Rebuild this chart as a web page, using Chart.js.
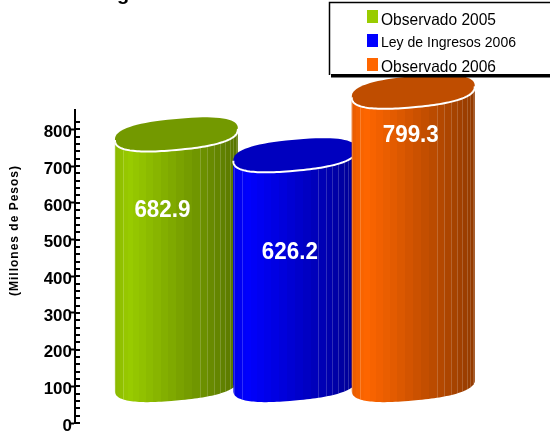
<!DOCTYPE html>
<html><head><meta charset="utf-8">
<style>html,body{margin:0;padding:0;background:#fff}canvas{display:block}</style>
<script src="https://cdn.jsdelivr.net/npm/chart.js@4"></script>
</head><body><canvas id="c" width="550" height="432"></canvas>
<script>
const seriesNames = ["Observado 2005", "Ley de Ingresos 2006", "Observado 2006"];
const seriesValues = [682.9, 626.2, 799.3];
const seriesPositions = [1, 2, 3];
const bodyColors = [[153,204,0],[0,0,255],[255,102,0]];
const topColors = ["#739900","#0000bf","#bf4d00"];
const axisTitle = "(Millones de Pesos)";
const visibleTitleFragment = "g";

const FONT = '"Liberation Sans", Arial, sans-serif';
const BAR_W = 123, RY = 15.5, SHEAR = -0.09, ROUNDNESS = 2.5;

function bandGradient(ctx, left, w, rgb) {
  const g = ctx.createLinearGradient(left, 0, left + w, 0);
  const shade = t => t < 0.11 ? 0.9 + 0.1 * t / 0.11 : 1 - 0.43 * (t - 0.11) / 0.89;
  for (let a = -90; a < 90; a += 7.5) {
    const t0 = (Math.sin(a * Math.PI / 180) + 1) / 2;
    const t1 = (Math.sin((a + 7.5) * Math.PI / 180) + 1) / 2;
    const s = shade((t0 + t1) / 2);
    const col = `rgb(${rgb.map(v => Math.round(v * s)).join(',')})`;
    g.addColorStop(t0, col); g.addColorStop(t1, col);
  }
  return g;
}

// rim of a tilted, slightly squared cylinder end; angles run clockwise on screen, 0 = right end
function rim(ctx, cx, cy, rx, from, to) {
  const e = 2 / ROUNDNESS;
  for (let i = 0; i <= 72; i++) {
    const a = from + (to - from) * i / 72, c = Math.cos(a), s = Math.sin(a);
    const x = rx * Math.sign(c) * Math.pow(Math.abs(c), e);
    const y = RY * Math.sign(s) * Math.pow(Math.abs(s), e) + SHEAR * x;
    ctx.lineTo(cx + x, cy + y);
  }
}

function silhouette(ctx, el) {
  const rx = el.width / 2, d = rx * -SHEAR;
  ctx.beginPath();
  ctx.moveTo(el.x - rx, el.y + d);
  ctx.lineTo(el.x + rx, el.y - d);
  rim(ctx, el.x, el.base, rx, 0, Math.PI);
  ctx.closePath();
}

const cylinders = {
  id: 'cylinders',
  beforeDatasetDraw(chart, args) {
    const el = chart.getDatasetMeta(args.index).data[0], ctx = chart.ctx;
    ctx.save();
    ctx.fillStyle = el.options.backgroundColor;
    silhouette(ctx, el); ctx.fill();
    silhouette(ctx, el); ctx.clip();
  },
  afterDatasetDraw(chart, args) {
    const el = chart.getDatasetMeta(args.index).data[0], ctx = chart.ctx;
    const rx = el.width / 2;
    ctx.strokeStyle = 'rgba(255,255,255,0.18)';
    ctx.lineWidth = 1;
    [-82.5,-60,22.5,30,37.5,45,52.5,60,67.5,75,82.5].forEach(a => {
      const x = Math.round(el.x + rx * Math.sin(a * Math.PI / 180)) + 0.5;
      ctx.beginPath(); ctx.moveTo(x, el.y - 20); ctx.lineTo(x, el.base + 20); ctx.stroke();
    });
    ctx.restore();
    ctx.save();
    ctx.fillStyle = topColors[args.index];
    ctx.beginPath(); rim(ctx, el.x, el.y, rx, 0, Math.PI * 2); ctx.closePath(); ctx.fill();
    ctx.strokeStyle = '#fff'; ctx.lineWidth = 2;
    ctx.beginPath(); rim(ctx, el.x, el.y, rx, 0, Math.PI); ctx.stroke();
    ctx.restore();
  },
  afterDatasetsDraw(chart) {
    const ctx = chart.ctx;
    ctx.save();
    ctx.fillStyle = '#fff';
    ctx.font = 'bold 24px ' + FONT;
    ctx.textAlign = 'center'; ctx.textBaseline = 'middle';
    const dy = [76, 97, 44];
    chart.data.datasets.forEach((ds, i) => {
      const el = chart.getDatasetMeta(i).data[0];
      ctx.fillText(seriesValues[i].toFixed(1), el.x - [14, 5, 2.5][i], el.y + dy[i], 56);
    });
    ctx.restore();
  }
};

const decorations = {
  id: 'decorations',
  afterDraw(chart) {
    const ctx = chart.ctx, y = chart.scales.y;
    ctx.save();
    // right-hand tick marks
    ctx.strokeStyle = '#000'; ctx.lineWidth = 2;
    y.ticks.forEach(t => {
      const p = Math.round(y.getPixelForValue(t.value));
      ctx.beginPath(); ctx.moveTo(chart.chartArea.left, p); ctx.lineTo(chart.chartArea.left + 5, p); ctx.stroke();
    });
    // axis title
    ctx.save();
    ctx.translate(14.5, 230.5); ctx.rotate(-Math.PI / 2);
    ctx.font = 'bold 12px ' + FONT; ctx.fillStyle = '#000';
    ctx.letterSpacing = '1px';
    ctx.textAlign = 'center'; ctx.textBaseline = 'middle';
    ctx.fillText(axisTitle, 0, 0);
    ctx.restore();
    // clipped title fragment
    ctx.font = 'bold 20px ' + FONT; ctx.fillStyle = '#000';
    ctx.textAlign = 'left'; ctx.textBaseline = 'alphabetic';
    ctx.fillText(visibleTitleFragment, 117, 0);
    // legend box
    ctx.fillStyle = '#000'; ctx.fillRect(331, 74, 219, 3.5);
    ctx.fillStyle = '#fff'; ctx.fillRect(329, 2, 221, 72);
    ctx.strokeStyle = '#000'; ctx.lineWidth = 1.5;
    ctx.beginPath(); ctx.moveTo(550, 2.5); ctx.lineTo(329.5, 2.5); ctx.lineTo(329.5, 75); ctx.stroke();
    const rows = [[10, 25, 16.5, 115], [34, 47, 15.5, 135], [58, 72, 16.5, 115]];
    chart.data.datasets.forEach((ds, i) => {
      const [by, ty, fs, mw] = rows[i];
      ctx.fillStyle = `rgb(${bodyColors[i].join(',')})`;
      ctx.fillRect(367, by, 11, 13);
      ctx.fillStyle = '#000'; ctx.font = fs + 'px ' + FONT;
      ctx.fillText(ds.label, 381, ty, mw);
    });
    ctx.restore();
  }
};

new Chart(document.getElementById('c'), {
  type: 'bar',
  data: {
    datasets: seriesNames.map((name, i) => ({
      label: name,
      data: [{ x: seriesPositions[i], y: seriesValues[i] }],
      order: seriesNames.length - i,
      yAxisID: 'yBars',
      barThickness: BAR_W,
      grouped: false,
      clip: false,
      borderWidth: 0,
      backgroundColor: c => {
        const px = c.chart.scales.x.getPixelForValue(seriesPositions[i]);
        if (!isFinite(px) || !c.chart.chartArea) return `rgb(${bodyColors[i].join(',')})`;
        return bandGradient(c.chart.ctx, px - BAR_W / 2, BAR_W, bodyColors[i]);
      }
    }))
  },
  options: {
    responsive: false,
    animation: false,
    layout: { padding: { top: 110, bottom: 9, left: 0, right: 42 } },
    plugins: { legend: { display: false }, tooltip: { enabled: false }, title: { display: false } },
    scales: {
      x: { type: 'linear', min: 0.1435, max: 3.8, display: false, offset: false },
      y: {
        position: 'left', min: 0, max: 853,
        afterFit: s => { s.width = 75; },
        afterBuildTicks: s => { s.ticks = s.ticks.filter(t => t.value % 20 === 0); },
        border: { display: true, color: '#000', width: 2 },
        grid: {
          drawOnChartArea: false, tickLength: 5, tickWidth: 2,
          tickColor: c => (c.tick && c.tick.value % 100 === 0) ? '#000' : 'rgba(0,0,0,0)'
        },
        ticks: {
          stepSize: 20, autoSkip: false, padding: -2, labelOffset: 3, color: '#000',
          font: { family: FONT, size: 17, weight: 'bold' },
          callback: v => v % 100 === 0 ? String(v) : ''
        }
      },
      yBars: { display: false, min: -103.5, max: 749.5 }
    }
  },
  plugins: [cylinders, decorations]
});
</script></body></html>
